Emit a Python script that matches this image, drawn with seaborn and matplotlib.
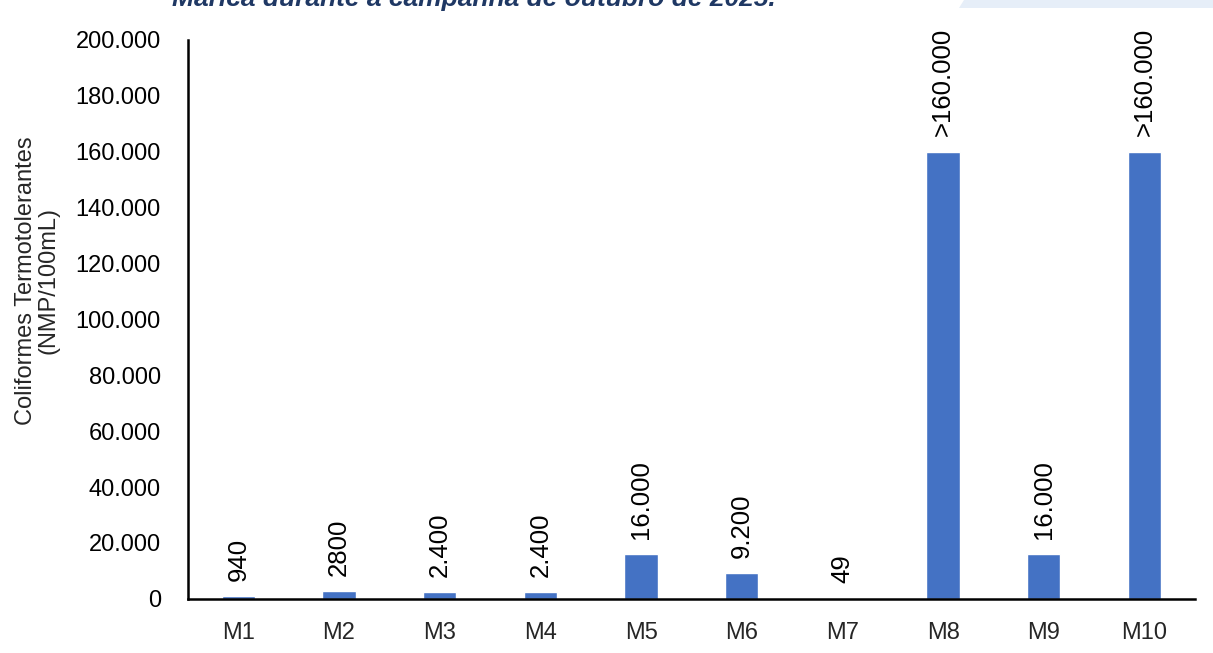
import matplotlib
matplotlib.use("Agg")
import matplotlib.pyplot as plt
import matplotlib.ticker as mticker
from matplotlib.patches import Polygon
import seaborn as sns
import pandas as pd

# === DATA ===
amostras = ["M1", "M2", "M3", "M4", "M5", "M6", "M7", "M8", "M9", "M10"]
coliformes = [940, 2800, 2400, 2400, 16000, 9200, 49, 160000, 16000, 160000]
rotulos = ["940", "2800", "2.400", "2.400", "16.000", "9.200", "49",
           ">160.000", "16.000", ">160.000"]

df = pd.DataFrame({"amostra": amostras, "valor": coliformes})

sns.set_style("white")
plt.rcParams["font.family"] = ["Liberation Sans", "DejaVu Sans"]
FS = 17

fig = plt.figure(figsize=(12.13, 6.53), dpi=100)
ax = fig.add_axes([0.155, 0.083, 0.83, 0.856])

sns.barplot(data=df, x="amostra", y="valor", color="#4472C4",
            width=0.33, saturation=1, ax=ax)

# data labels, rotated like the original
for i, (v, txt) in enumerate(zip(coliformes, rotulos)):
    ax.annotate(txt, (i, v), xytext=(0, 11), textcoords="offset points",
                rotation=90, ha="center", va="bottom", fontsize=18.5,
                color="#000000")

ax.set_ylim(0, 200000)
ax.set_xlim(-0.5, len(amostras) - 0.5)
ax.yaxis.set_major_locator(mticker.MultipleLocator(20000))
ax.yaxis.set_major_formatter(
    mticker.FuncFormatter(lambda x, p: f"{int(x):,}".replace(",", ".")))

sns.despine(ax=ax)
for s in ["left", "bottom"]:
    ax.spines[s].set_color("black")
    ax.spines[s].set_linewidth(1.8)

ax.tick_params(axis="y", left=False, pad=16, labelsize=FS, colors="black")
ax.tick_params(axis="x", bottom=False, pad=13, labelsize=FS)
ax.set_xlabel("")
ax.set_ylabel("Coliformes Termotolerantes\n(NMP/100mL)", fontsize=FS,
              linespacing=1.0)
ax.yaxis.set_label_coords(-0.128, 0.57)

# cropped title fragment and header decoration from the source page
fig.patches.append(Polygon([[964 / 1213, 1.0], [1.0, 1.0], [1.0, 1 - 8 / 653],
                            [959 / 1213, 1 - 8 / 653]],
                           closed=True, transform=fig.transFigure,
                           facecolor="#E6EEF8", edgecolor="none"))
fig.text(172 / 1213, 1 - 6 / 653, "Maricá durante a campanha de outubro de 2025.",
         fontsize=19, fontweight="bold", fontstyle="italic",
         color="#1F3864", ha="left", va="baseline")

fig.savefig("out.png", dpi=100)
